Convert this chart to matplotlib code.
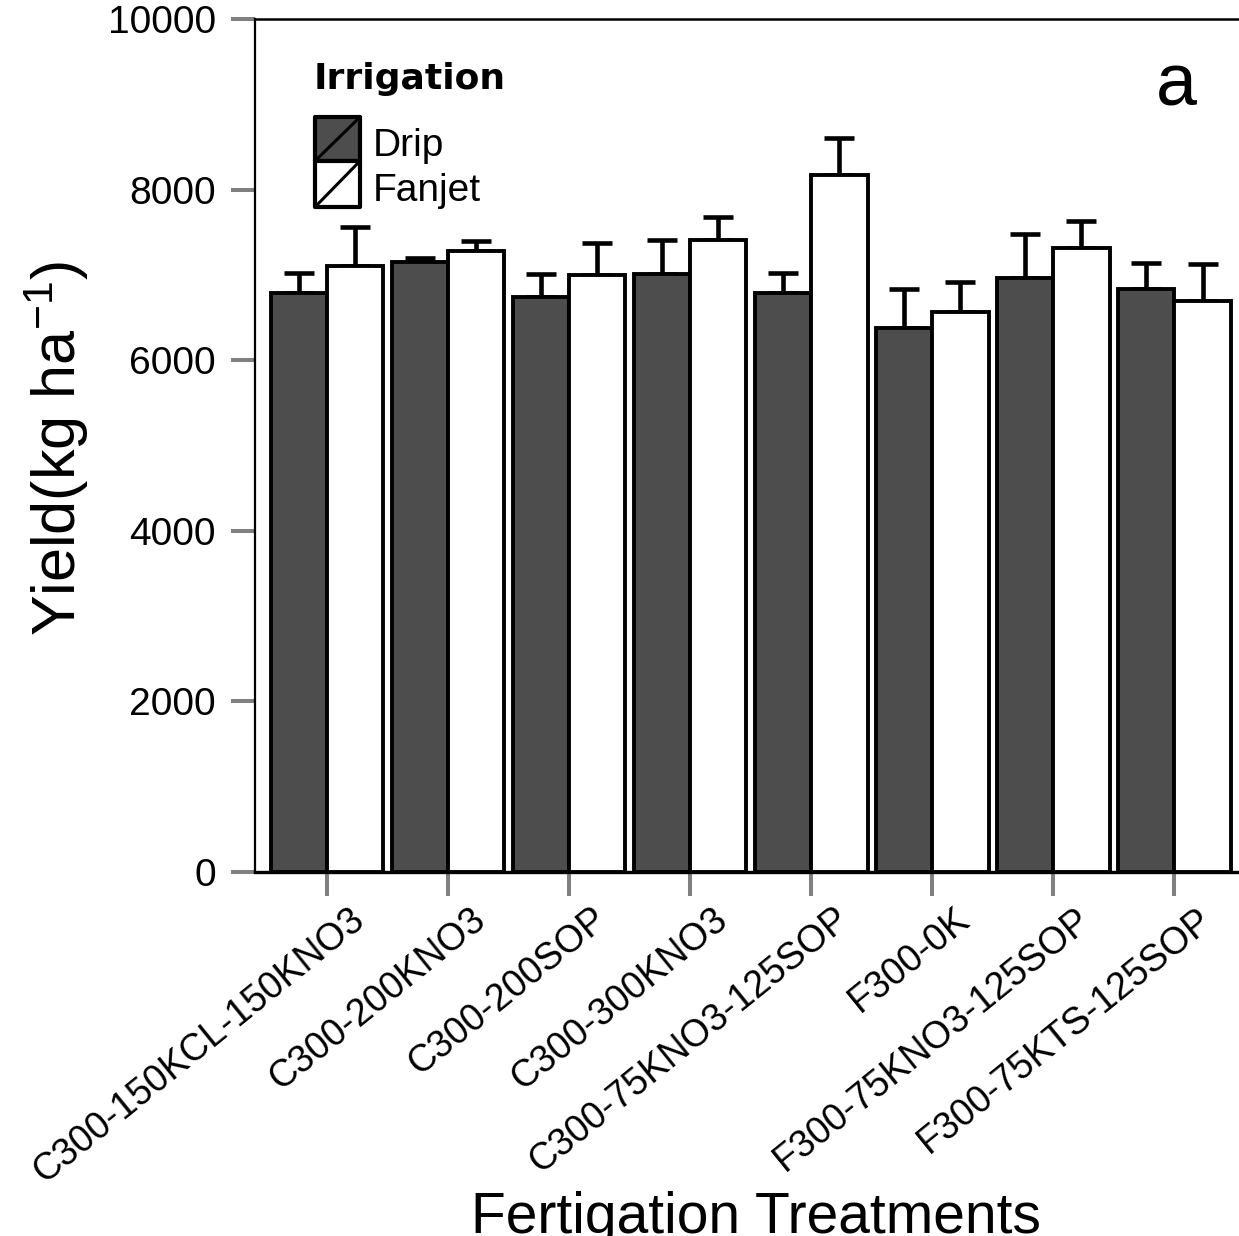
import numpy as np
import matplotlib
matplotlib.use('Agg')
import matplotlib.pyplot as plt
from matplotlib.patches import FancyBboxPatch
from matplotlib.lines import Line2D
import matplotlib.transforms as mtransforms

plt.rcParams['font.family'] = ['Liberation Sans', 'DejaVu Sans']
plt.rcParams['mathtext.fontset'] = 'custom'
plt.rcParams['mathtext.rm'] = 'Liberation Sans'
plt.rcParams['mathtext.it'] = 'Liberation Sans'

treatments = ['C300-150KCL-150KNO3', 'C300-200KNO3', 'C300-200SOP', 'C300-300KNO3',
              'C300-75KNO3-125SOP', 'F300-0K', 'F300-75KNO3-125SOP', 'F300-75KTS-125SOP']
drip = [6790, 7150, 6740, 7010, 6790, 6380, 6960, 6830]
drip_err = [230, 45, 270, 400, 230, 450, 520, 310]
fanjet = [7100, 7280, 7000, 7410, 8170, 6570, 7320, 6690]
fanjet_err = [460, 120, 370, 270, 440, 350, 310, 440]

W, H = 1239, 1236
fig = plt.figure(figsize=(W / 100, H / 100), dpi=100)

# axes box in pixels: left 255, right ~1247, top 19, bottom 872
ax_l, ax_r, ax_t, ax_b = 255, 1247, 19, 872
ax = fig.add_axes([ax_l / W, 1 - ax_b / H, (ax_r - ax_l) / W, (ax_b - ax_t) / H])

x = np.arange(len(treatments))
bw = 0.465
dark = '#4d4d4d'
ax.bar(x - bw / 2, drip, bw, color=dark, edgecolor='black', linewidth=2.8, zorder=2)
ax.bar(x + bw / 2, fanjet, bw, color='white', edgecolor='black', linewidth=2.8, zorder=3)
zeros = np.zeros(len(x))
ax.errorbar(x - bw / 2, drip, yerr=[zeros, drip_err], fmt='none', ecolor='black',
            elinewidth=3.3, capsize=11, capthick=3.3, zorder=1)
ax.errorbar(x + bw / 2, fanjet, yerr=[zeros, fanjet_err], fmt='none', ecolor='black',
            elinewidth=3.3, capsize=11, capthick=3.3, zorder=1)

ax.set_xlim(-0.595, 7.6)
ax.set_ylim(0, 10000)
ax.set_yticks(np.arange(0, 10001, 2000))
ax.set_xticks(x)
ax.set_xticklabels([])

# rotated category labels, anchored at their right end just below each tick
lab_tr = mtransforms.blended_transform_factory(ax.transData, ax.transAxes) + \
    mtransforms.ScaledTranslation(22 / 100, -29 / 100, fig.dpi_scale_trans)
for xi, name in zip(x, treatments):
    ax.text(xi, 0, name, transform=lab_tr, rotation=39, ha='right', va='top',
            rotation_mode='anchor', fontsize=27, clip_on=False)

ax.tick_params(axis='both', which='major', direction='out', color='#808080',
               width=2.9, length=17)
ax.tick_params(axis='y', pad=11, labelsize=28)
ax.spines['left'].set_linewidth(1.6)
ax.spines['top'].set_linewidth(1.8)
ax.spines['bottom'].set_linewidth(2.4)
ax.spines['right'].set_visible(False)

fig.text(57 / W, 1 - 448 / H, r'Yield(kg ha$^{-1}$)', rotation=90, ha='center', va='center',
         fontsize=44)
fig.text(756 / W, 1 - 1218 / H, 'Fertigation Treatments', ha='center', va='center', fontsize=41)
fig.text(1176 / W, 1 - 86 / H, 'a', ha='center', va='center', fontsize=53)

# legend drawn SigmaPlot style: stacked boxes with a diagonal
fig.text(314 / W, 1 - 79 / H, 'Irrigation', ha='left', va='center', fontsize=26,
         fontweight='bold', family='DejaVu Sans')


def px(xp, yp):
    return xp / W, 1 - yp / H


for (top, bot), fc, label in [((117, 161), dark, 'Drip'), ((161, 207), 'white', 'Fanjet')]:
    x0, y0 = px(315, bot)
    x1, y1 = px(360, top)
    box = FancyBboxPatch((x0, y0), x1 - x0, y1 - y0, boxstyle='square,pad=0',
                         transform=fig.transFigure, facecolor=fc, edgecolor='black',
                         linewidth=3.0, joinstyle='round')
    fig.add_artist(box)
    fig.add_artist(Line2D([x0, x1], [y0, y1], transform=fig.transFigure, color='black',
                          linewidth=2.2))
    fig.text(373 / W, 1 - ((top + bot) / 2 + 7) / H, label, ha='left', va='center',
             fontsize=28)

fig.savefig('out.png', dpi=100)
